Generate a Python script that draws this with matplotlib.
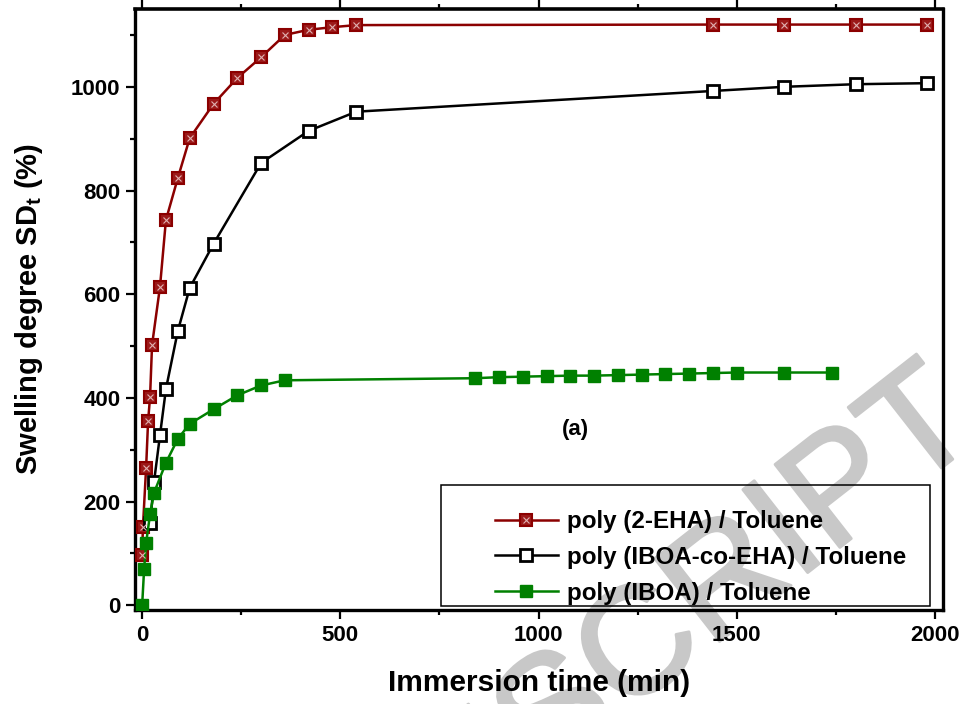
import numpy as np
import matplotlib
matplotlib.use("Agg")
import matplotlib.pyplot as plt
import matplotlib.patheffects as pe
from matplotlib.patches import Rectangle
from matplotlib.ticker import MultipleLocator

plt.rcParams['font.family'] = ['Liberation Sans', 'DejaVu Sans']
plt.rcParams['font.weight'] = 'bold'
plt.rcParams['mathtext.fontset'] = 'custom'
plt.rcParams['mathtext.rm'] = 'Liberation Sans:bold'
plt.rcParams['mathtext.bf'] = 'Liberation Sans:bold'
plt.rcParams['mathtext.it'] = 'Liberation Sans:bold'
plt.rcParams['mathtext.default'] = 'bf'

# poly (2-EHA) in toluene
t_eha = [0, 2, 10, 15, 20, 25, 45, 60, 90, 120, 180, 240, 300, 360, 420, 480, 540,
         1440, 1620, 1800, 1980]
sd_eha = [97, 151, 265, 355, 402, 502, 614, 743, 824, 901, 967, 1017, 1057, 1100, 1110,
          1115, 1119, 1120, 1120, 1120, 1120]

# poly (IBOA-co-EHA) in toluene
t_co = [20, 30, 45, 60, 90, 120, 180, 300, 420, 540, 1440, 1620, 1800, 1980]
sd_co = [159, 238, 328, 417, 529, 612, 697, 853, 915, 952, 992, 1000, 1005, 1007]

# poly (IBOA) in toluene
t_iboa = [0, 5, 10, 20, 30, 60, 90, 120, 180, 240, 300, 360,
          840, 900, 960, 1020, 1080, 1140, 1200, 1260, 1320, 1380, 1440, 1500, 1620, 1740]
sd_iboa = [0, 70, 120, 176, 217, 275, 321, 350, 378, 405, 424, 434,
           438, 440, 441, 442, 443, 443, 444, 445, 446, 447, 448, 449, 449, 449]

labels = ['poly (2-EHA) / Toluene', 'poly (IBOA-co-EHA) / Toluene', 'poly (IBOA) / Toluene']

W, H = 969, 704
fig = plt.figure(figsize=(W / 100, H / 100), dpi=100)
fig.patch.set_facecolor('white')
ax = fig.add_axes([135 / W, 1 - 610 / H, (943 - 135) / W, (610 - 8.5) / H])
ax.patch.set_visible(False)

# grey diagonal stamp behind everything
wm_color = '#c8c8c8'
fig.text(1.015, 0.382, 'ACCEPTED MANUSCRIPT', rotation=38, rotation_mode='anchor',
         ha='right', va='baseline', fontsize=110, color=wm_color,
         fontweight='normal', zorder=-5,
         path_effects=[pe.withStroke(linewidth=2.2, foreground=wm_color)])

red = '#8b0000'
green = '#008000'

l_red, = ax.plot(t_eha, sd_eha, '-', color=red, lw=1.8, marker='s', ms=9,
                 mfc='#9c1a1a', mec=red, mew=1.5, zorder=3)
l_redx, = ax.plot(t_eha, sd_eha, 'none', marker='x', ms=5, mec='#e0b0b0', mew=0.8,
                  zorder=4)
l_co, = ax.plot(t_co, sd_co, '-', color='black', lw=1.8, marker='s', ms=8.8,
                mfc='white', mec='black', mew=2, zorder=3)
l_ib, = ax.plot(t_iboa, sd_iboa, '-', color=green, lw=1.8, marker='s', ms=9,
                mfc=green, mec=green, zorder=3)

ax.set_xlim(-18, 2020)
ax.set_ylim(-9, 1151)
ax.xaxis.set_major_locator(MultipleLocator(500))
ax.xaxis.set_minor_locator(MultipleLocator(250))
ax.yaxis.set_major_locator(MultipleLocator(200))
ax.yaxis.set_minor_locator(MultipleLocator(100))

for s in ax.spines.values():
    s.set_linewidth(2.4)
ax.spines['top'].set_linewidth(2.6)
ax.tick_params(axis='both', which='major', direction='out', length=6.5, width=1.6,
               labelsize=16, pad=4)
ax.tick_params(axis='both', which='minor', direction='out', length=3.8, width=1.6)
ax.tick_params(top=True, which='both', labeltop=False, color='#b0b0b0')
ax.tick_params(bottom=True, left=True, which='both', color='black')
for lab in ax.get_xticklabels() + ax.get_yticklabels():
    lab.set_fontweight('bold')

ax.set_xlabel('Immersion time (min)', fontsize=21.5, fontweight='bold', labelpad=17)
ax.set_ylabel(r'Swelling degree SD$_\mathbf{t}$ (%)', fontsize=21, fontweight='bold',
              labelpad=19)

ax.text(1092, 340, '(a)', ha='center', va='center', fontsize=16, fontweight='bold')

leg = ax.legend([(l_red, l_redx), l_co, l_ib], labels, loc='upper left',
                bbox_to_anchor=(495 / W, 1 - 510 / H), bbox_transform=fig.transFigure,
                frameon=False, borderpad=0, borderaxespad=0, handlelength=2.6,
                handletextpad=0.36, labelspacing=0.53, numpoints=1,
                prop={'size': 17.4, 'weight': 'bold'})
fig.add_artist(Rectangle((441 / W, 1 - 606 / H), (930 - 441) / W, (606 - 485) / H,
                         transform=fig.transFigure, fill=False, lw=1.1,
                         ec='black', zorder=5))

fig.savefig('out.png', dpi=100)
